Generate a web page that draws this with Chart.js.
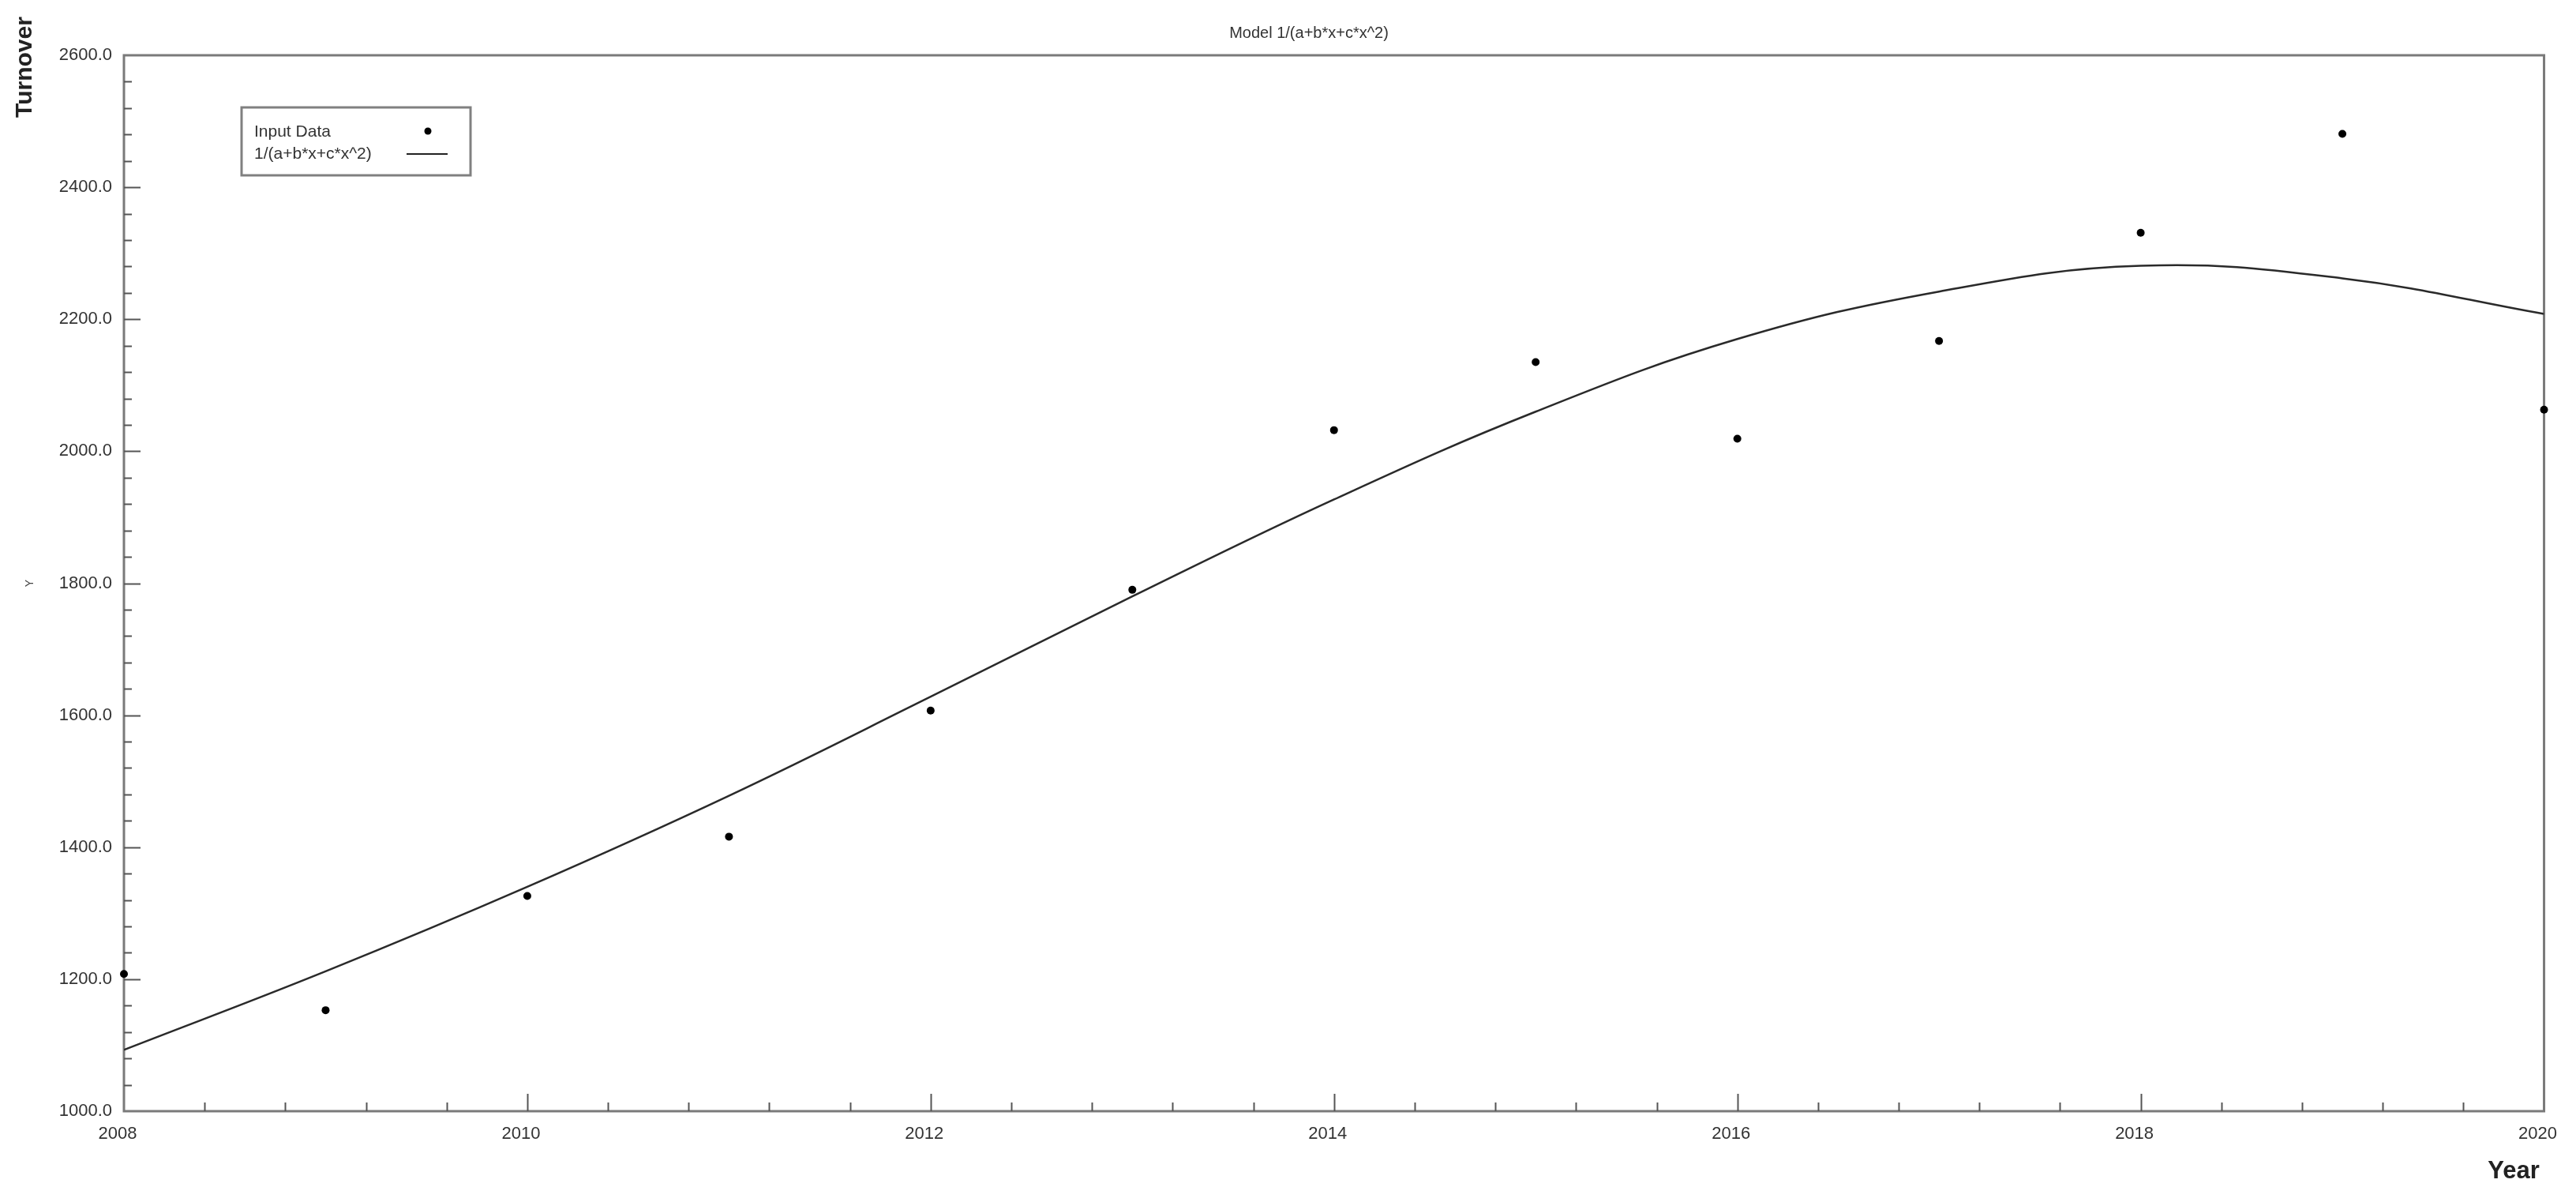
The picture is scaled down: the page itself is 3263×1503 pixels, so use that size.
<!DOCTYPE html>
<html>
<head>
<meta charset="utf-8">
<title>Model 1/(a+b*x+c*x^2)</title>
<script src="https://cdn.jsdelivr.net/npm/chart.js@4.4.1/dist/chart.umd.min.js"></script>
<style>
  html, body { margin: 0; padding: 0; background: #fff; }
  #chart { display: block; }
</style>
</head>
<body>
<canvas id="chart" width="3263" height="1503"></canvas>
<script>
// datos
let years = [2008, 2009, 2010, 2011, 2012, 2013, 2014, 2015, 2016, 2017, 2018, 2019, 2020];
let turnover = [1208, 1153, 1326, 1416, 1607, 1790, 2032, 2135, 2019, 2167, 2331, 2481, 2063];

// curva del modelo, leida año a año
let fitYears = [2008, 2009, 2010, 2011, 2012, 2013, 2014, 2015, 2016, 2017, 2018, 2019, 2020];
let fitValues = [1093, 1212, 1340, 1478, 1628, 1780, 1927, 2060, 2170, 2242, 2281, 2262, 2208];

let xTicks = [2008, 2010, 2012, 2014, 2016, 2018, 2020];
let yTicks = [1000, 1200, 1400, 1600, 1800, 2000, 2200, 2400, 2600];

let titulo = 'Model 1/(a+b*x+c*x^2)';
let nombreDatos = 'Input Data';
let nombreCurva = '1/(a+b*x+c*x^2)';

const fuente = '"Liberation Sans", Arial, sans-serif';

// marco, ticks hacia dentro, textos sueltos y leyenda
let adornos = {
    id: 'adornos',
    beforeDatasetsDraw(chart) {
        let ctx = chart.ctx;
        let a = chart.chartArea;
        ctx.save();
        ctx.strokeStyle = '#7a7a7a';
        ctx.lineWidth = 3;
        ctx.strokeRect(a.left, a.top, a.right - a.left, a.bottom - a.top);
        ctx.restore();
    },
    afterDraw(chart) {
        let ctx = chart.ctx;
        let a = chart.chartArea;
        let sx = chart.scales.x;
        let sy = chart.scales.y;
        ctx.save();

        // ticks eje x
        ctx.strokeStyle = '#555';
        ctx.lineWidth = 2;
        for (let i = 0; i <= 30; i++) {
            let v = 2008 + i * 0.4;
            let px = Math.round(sx.getPixelForValue(v)) + 0.5;
            let largo = (i % 5 == 0) ? 22 : 11;
            if (i == 0 || i == 30) continue;
            ctx.beginPath();
            ctx.moveTo(px, a.bottom);
            ctx.lineTo(px, a.bottom - largo);
            ctx.stroke();
        }
        // ticks eje y
        for (let i = 0; i <= 40; i++) {
            let v = 1000 + i * 40;
            let py = Math.round(sy.getPixelForValue(v)) + 0.5;
            let largo = (i % 5 == 0) ? 21 : 10;
            if (i == 0 || i == 40) continue;
            ctx.beginPath();
            ctx.moveTo(a.left, py);
            ctx.lineTo(a.left + largo, py);
            ctx.stroke();
        }

        // titulo
        ctx.fillStyle = '#333';
        ctx.font = '20px ' + fuente;
        ctx.textAlign = 'center';
        ctx.textBaseline = 'middle';
        ctx.fillText(titulo, 1658, 42);

        // Turnover
        ctx.save();
        ctx.translate(32, 85);
        ctx.rotate(-Math.PI / 2);
        ctx.fillStyle = '#222';
        ctx.font = 'bold 30px ' + fuente;
        ctx.fillText('Turnover', 0, 0);
        ctx.restore();

        // Year
        ctx.fillStyle = '#222';
        ctx.font = 'bold 31px ' + fuente;
        ctx.textBaseline = 'alphabetic';
        ctx.fillText('Year', 3184, 1492);

        // leyenda
        ctx.fillStyle = '#fff';
        ctx.fillRect(306, 136, 290, 86);
        ctx.strokeStyle = '#808080';
        ctx.lineWidth = 3;
        ctx.strokeRect(306, 136, 290, 86);
        ctx.fillStyle = '#333';
        ctx.font = '21px ' + fuente;
        ctx.textAlign = 'left';
        ctx.textBaseline = 'middle';
        ctx.fillText(nombreDatos, 322, 167);
        ctx.fillText(nombreCurva, 322, 195);
        ctx.fillStyle = '#000';
        ctx.beginPath();
        ctx.arc(542, 166, 4.5, 0, Math.PI * 2);
        ctx.fill();
        ctx.strokeStyle = '#222';
        ctx.lineWidth = 2;
        ctx.beginPath();
        ctx.moveTo(515, 195);
        ctx.lineTo(567, 195);
        ctx.stroke();

        ctx.restore();
    }
};

let datosPuntos = years.map(function (y, i) { return { x: y, y: turnover[i] }; });
let datosCurva = fitYears.map(function (y, i) { return { x: y, y: fitValues[i] }; });

let ctx = document.getElementById('chart');
let miGrafica = new Chart(ctx, {
    type: 'scatter',
    data: {
        datasets: [
            {
                label: nombreCurva,
                data: datosCurva,
                showLine: true,
                borderColor: '#2a2a2a',
                borderWidth: 2.5,
                pointRadius: 0,
                tension: 0.4,
                clip: 0
            },
            {
                label: nombreDatos,
                data: datosPuntos,
                backgroundColor: '#000',
                borderColor: '#000',
                borderWidth: 0,
                pointRadius: 5,
                clip: false
            }
        ]
    },
    options: {
        responsive: false,
        animation: false,
        devicePixelRatio: 1,
        layout: {
            padding: { left: 0, top: 70, right: 26, bottom: 0 }
        },
        scales: {
            x: {
                type: 'linear',
                min: 2008,
                max: 2020,
                afterFit: function (scale) { scale.height = 96; },
                afterBuildTicks: function (scale) {
                    scale.ticks = xTicks.map(function (v) { return { value: v }; });
                },
                grid: { display: false, drawTicks: false },
                border: { display: false },
                ticks: {
                    padding: 16,
                    labelOffset: -8,
                    color: '#333',
                    font: { family: fuente, size: 22 },
                    maxRotation: 0,
                    callback: function (v) { return String(v); }
                }
            },
            y: {
                type: 'linear',
                min: 1000,
                max: 2600,
                afterFit: function (scale) { scale.width = 157; },
                afterBuildTicks: function (scale) {
                    scale.ticks = yTicks.map(function (v) { return { value: v }; });
                },
                grid: { display: false, drawTicks: false },
                border: { display: false },
                title: {
                    display: true,
                    text: 'Y',
                    color: '#444',
                    font: { family: fuente, size: 14 },
                    padding: { top: 30, bottom: 0 }
                },
                ticks: {
                    padding: 15,
                    color: '#333',
                    font: { family: fuente, size: 22 },
                    callback: function (v) { return Number(v).toFixed(1); }
                }
            }
        },
        plugins: {
            legend: { display: false },
            title: { display: false },
            tooltip: { enabled: false }
        }
    },
    plugins: [adornos]
});
</script>
</body>
</html>
